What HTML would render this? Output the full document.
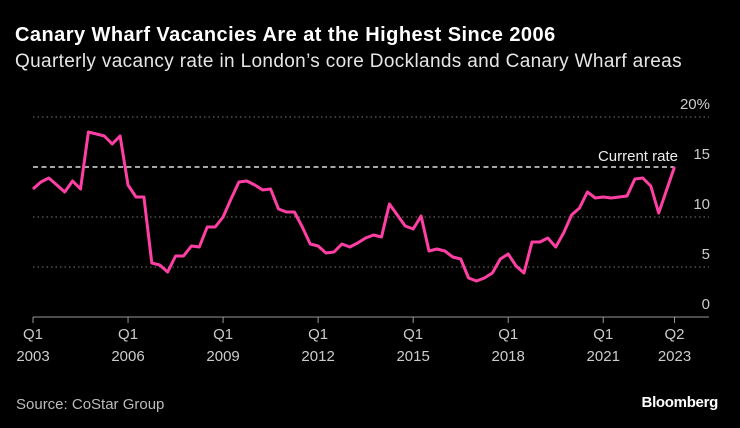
<!DOCTYPE html>
<html><head><meta charset="utf-8"><style>
html,body{margin:0;padding:0;background:#000;}
body{width:740px;height:428px;overflow:hidden;position:relative;font-family:"Liberation Sans",sans-serif;color:#fff;}
#title{position:absolute;left:15px;top:24px;font-size:20px;font-weight:bold;letter-spacing:0.45px;}
#sub{position:absolute;left:15px;top:51px;font-size:19px;color:#e6e6e6;letter-spacing:0.35px;}
#src{position:absolute;left:16px;top:396px;font-size:15px;color:#bbb;}
#brand{position:absolute;right:22px;top:394px;font-size:15px;font-weight:bold;letter-spacing:-0.3px;}
svg{position:absolute;left:0;top:0;}
</style></head><body>
<div id="title">Canary Wharf Vacancies Are at the Highest Since 2006</div>
<div id="sub">Quarterly vacancy rate in London’s core Docklands and Canary Wharf areas</div>
<svg id="chart" width="740" height="428"></svg>
<div id="src">Source: CoStar Group</div>
<div id="brand">Bloomberg</div>
<script>
const vacancy=[12.8,13.5,13.9,13.2,12.5,13.6,12.8,18.5,18.3,18.1,17.3,18.1,13.2,12.0,12.0,5.4,5.2,4.5,6.1,6.1,7.1,7.0,9.0,9.0,10.0,11.8,13.5,13.6,13.2,12.7,12.8,10.8,10.5,10.5,9.0,7.3,7.1,6.4,6.5,7.3,7.0,7.4,7.9,8.2,8.0,11.3,10.2,9.1,8.8,10.1,6.6,6.8,6.6,6.0,5.8,3.9,3.6,3.9,4.4,5.8,6.3,5.1,4.4,7.5,7.5,7.9,7.0,8.4,10.2,10.9,12.5,11.9,12.0,11.9,12.0,12.1,13.8,13.9,13.1,10.4,12.7,15.0];
const yTicks=[0,5,10,15,20];
const yTickLabels=["0","5","10","15","20%"];
const xTickIndex=[0,12,24,36,48,60,72,81];
const xTickTop=["Q1","Q1","Q1","Q1","Q1","Q1","Q1","Q2"];
const xTickBottom=["2003","2006","2009","2012","2015","2018","2021","2023"];
const currentRate=15.0;

const svg=document.getElementById('chart');
const NS='http://www.w3.org/2000/svg';
const x0=33,qw=7.92,yBase=317,yPer=10;
const xs=i=>x0+i*qw;
const ys=v=>yBase-v*yPer;
function mk(tag,attrs){const e=document.createElementNS(NS,tag);for(const k in attrs)e.setAttribute(k,attrs[k]);svg.appendChild(e);return e;}

yTicks.forEach((t,i)=>{
  if(t>0&&t!==currentRate){
    const g=mk('line',{x1:33,x2:709,y1:ys(t),y2:ys(t),stroke:'#777','stroke-width':1,'stroke-dasharray':'1.5,3'});
    
    
  }
  const tx=mk('text',{x:710,y:ys(t)-8,'text-anchor':'end','font-size':15,fill:'#ccc','font-family':'Liberation Sans, sans-serif'});
  tx.textContent=yTickLabels[i];
  
  
});
const cr=mk('line',{x1:33,x2:xs(vacancy.length-1),y1:ys(currentRate),y2:ys(currentRate),stroke:'#ddd','stroke-width':1.5,'stroke-dasharray':'5,3.5'});


const crt=mk('text',{x:678,y:ys(currentRate)-6,'text-anchor':'end','font-size':15,fill:'#eee','font-family':'Liberation Sans, sans-serif'});
crt.textContent='Current rate';



const ax=mk('line',{x1:33,x2:709,y1:yBase,y2:yBase,stroke:'#999','stroke-width':1});


xTickIndex.forEach((k,i)=>{
  const x=xs(k);
  const tk=mk('line',{x1:x,x2:x,y1:yBase,y2:yBase+6,stroke:'#999','stroke-width':1});
  
  
  const a=mk('text',{x:x,y:339,'text-anchor':'middle','font-size':15,fill:'#ccc','font-family':'Liberation Sans, sans-serif'});
  a.textContent=xTickTop[i];
  
  
  const b=mk('text',{x:x,y:361,'text-anchor':'middle','font-size':15,fill:'#ccc','font-family':'Liberation Sans, sans-serif'});
  b.textContent=xTickBottom[i];
  
  
});
const pts=vacancy.map((v,i)=>xs(i).toFixed(1)+','+ys(v).toFixed(1)).join(' ');
const ln=mk('polyline',{points:pts,fill:'none',stroke:'#ff3fa4','stroke-width':3,'stroke-linejoin':'round'});


</script>
</body></html>
